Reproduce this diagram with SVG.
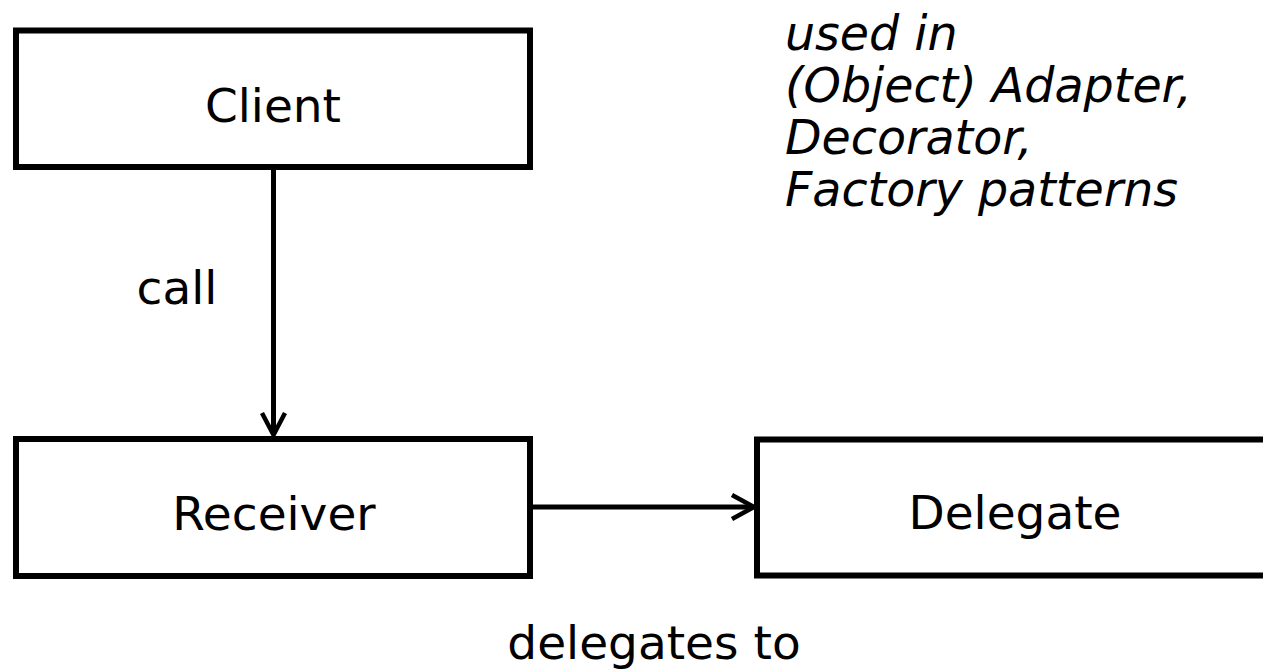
<svg xmlns="http://www.w3.org/2000/svg" width="1263" height="671" viewBox="0 0 1263 671">
  <style>
    .box { fill: #ffffff; stroke: #000000; stroke-width: 6; }
    .label { font-family: "DejaVu Sans", Verdana, sans-serif; font-size: 47px; fill: #000000; text-anchor: middle; }
    .note { font-family: "DejaVu Sans", Verdana, sans-serif; font-size: 47.5px; font-style: italic; fill: #000000; }
    .edge { fill: none; stroke: #000000; stroke-width: 5; }
    .head { fill: none; stroke: #000000; stroke-width: 4.5; }
  </style>
  <rect width="1263" height="671" fill="#ffffff"/>

  <g id="client">
    <rect class="box" x="16" y="30.5" width="514" height="136.5"/>
    <text class="label" x="273" y="122">Client</text>
  </g>

  <g id="receiver">
    <rect class="box" x="16" y="439" width="514" height="137"/>
    <text class="label" x="274" y="530">Receiver</text>
  </g>

  <g id="delegate">
    <rect class="box" x="757" y="439.5" width="530" height="136"/>
    <text class="label" x="1015" y="529">Delegate</text>
  </g>

  <g id="note">
    <text class="note" x="785" y="50">used in</text>
    <text class="note" x="785" y="102">(Object) Adapter,</text>
    <text class="note" x="785" y="154">Decorator,</text>
    <text class="note" x="785" y="206">Factory patterns</text>
  </g>

  <g id="connectors">
    <!-- Client calls Receiver -->
    <line class="edge" x1="273.5" y1="167" x2="273.5" y2="435"/>
    <polyline class="head" points="262,413 273.5,435 285,413"/>
    <text class="label" x="177" y="304">call</text>
    <!-- Receiver delegates to Delegate -->
    <line class="edge" x1="530" y1="507" x2="754" y2="507"/>
    <polyline class="head" points="732,495 754,507 732,519"/>
    <text class="label" x="654" y="659">delegates to</text>
  </g>
</svg>
